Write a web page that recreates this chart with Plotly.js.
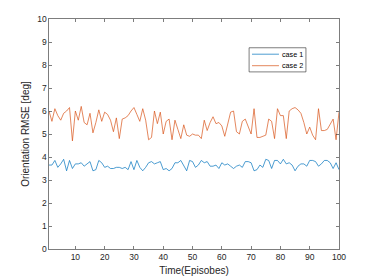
<!DOCTYPE html>
<html>
<head>
<meta charset="utf-8">
<script src="https://cdn.plot.ly/plotly-3.0.1.min.js"></script>
<style>html,body{margin:0;padding:0;background:#fff}#chart{width:374px;height:280px}</style>
</head>
<body>
<div id="chart"></div>
<script>
const episodes = Array.from({length: 100}, (_, i) => i + 1);
const case1 = [3.65,3.65,3.85,3.55,3.7,3.9,3.4,3.85,3.5,3.7,3.7,3.75,3.6,3.7,3.8,3.4,3.45,3.85,3.75,3.55,
3.6,3.5,3.5,3.55,3.55,3.5,3.55,3.45,3.8,3.45,3.85,3.55,3.4,3.55,3.75,3.8,3.7,3.75,3.8,3.45,
3.5,3.4,3.5,3.75,3.75,3.85,3.65,3.4,3.85,3.8,3.55,3.65,3.85,3.75,3.8,3.6,3.6,3.65,3.5,3.75,
3.65,3.7,3.6,3.5,3.6,3.65,3.55,3.8,3.8,3.75,3.4,3.45,3.65,3.55,3.9,3.85,3.5,3.85,3.85,3.7,
3.9,3.7,3.75,3.65,3.4,3.6,3.7,3.7,3.6,3.85,3.85,3.8,3.6,3.7,3.85,3.85,3.75,3.5,3.75,3.45];
const case2 = [6.0,5.55,6.1,5.8,5.6,5.9,6.0,6.15,4.7,6.0,5.6,6.2,5.5,5.4,5.9,5.05,5.5,6.05,5.55,5.95,
5.85,5.6,5.1,5.7,4.8,5.65,5.7,5.8,6.0,6.15,5.85,5.55,6.1,5.6,4.75,4.85,6.0,5.45,5.95,5.0,
5.55,5.65,4.75,5.6,5.2,4.8,5.4,4.95,4.9,5.0,4.95,4.95,4.8,5.6,5.15,5.5,5.75,5.45,5.5,5.35,
4.9,5.45,5.95,6.0,5.1,5.0,5.55,5.65,5.35,5.0,6.1,4.85,4.85,4.9,4.95,5.65,5.55,4.8,6.1,5.8,
5.8,4.8,6.0,6.1,6.15,6.05,5.9,5.5,5.0,5.3,4.95,4.75,6.1,5.15,5.15,5.2,5.4,5.65,4.75,5.95];
const seriesNames = ['case 1', 'case 2'];
const seriesColors = ['#0072BD', '#D95319'];
const xTicks = [10,20,30,40,50,60,70,80,90,100];
const yTicks = [0,1,2,3,4,5,6,7,8,9,10];

const FONT = 'Liberation Sans, Arial, sans-serif';
const axisCommon = {
  showgrid: false, zeroline: false, showline: true, mirror: 'ticks',
  linecolor: '#262626', linewidth: 0.6, ticks: 'inside', ticklen: 3,
  tickcolor: '#262626', tickwidth: 0.6,
  tickfont: {family: FONT, size: 8.5, color: '#262626'}
};

// Compact MATLAB-style legend drawn in paper coordinates
const legBox = {x0: 0.690, x1: 0.886, y0: 0.770, y1: 0.875};
const legRows = [0.847, 0.797];
const shapes = [{type: 'rect', xref: 'paper', yref: 'paper',
  x0: legBox.x0, x1: legBox.x1, y0: legBox.y0, y1: legBox.y1,
  line: {color: '#262626', width: 0.6}, fillcolor: '#fff', layer: 'above'}];
const annotations = [];
seriesNames.forEach((n, i) => {
  shapes.push({type: 'line', xref: 'paper', yref: 'paper',
    x0: 0.700, x1: 0.793, y0: legRows[i], y1: legRows[i],
    line: {color: seriesColors[i], width: 0.7}, layer: 'above'});
  annotations.push({xref: 'paper', yref: 'paper', x: 0.795, y: legRows[i],
    xanchor: 'left', yanchor: 'middle', text: n, showarrow: false,
    font: {family: FONT, size: 7.2, color: '#000'}});
});

Plotly.newPlot('chart', [
  {x: episodes, y: case1, name: seriesNames[0], type: 'scatter', mode: 'lines',
   line: {color: seriesColors[0], width: 0.7}},
  {x: episodes, y: case2, name: seriesNames[1], type: 'scatter', mode: 'lines',
   line: {color: seriesColors[1], width: 0.7}}
], {
  width: 374, height: 280,
  margin: {l: 49, r: 35, t: 19, b: 31},
  paper_bgcolor: '#fff', plot_bgcolor: '#fff',
  showlegend: false,
  shapes: shapes, annotations: annotations,
  xaxis: Object.assign({}, axisCommon, {range: [1, 100], tickvals: xTicks,
    title: {text: 'Time(Episobes)', standoff: 6,
      font: {family: FONT, size: 10, color: '#262626'}}}),
  yaxis: Object.assign({}, axisCommon, {range: [0, 10], tickvals: yTicks,
    title: {text: 'Orientation RMSE [deg]', standoff: 5,
      font: {family: FONT, size: 10, color: '#262626'}}})
}, {displayModeBar: false, staticPlot: true});
</script>
</body>
</html>
